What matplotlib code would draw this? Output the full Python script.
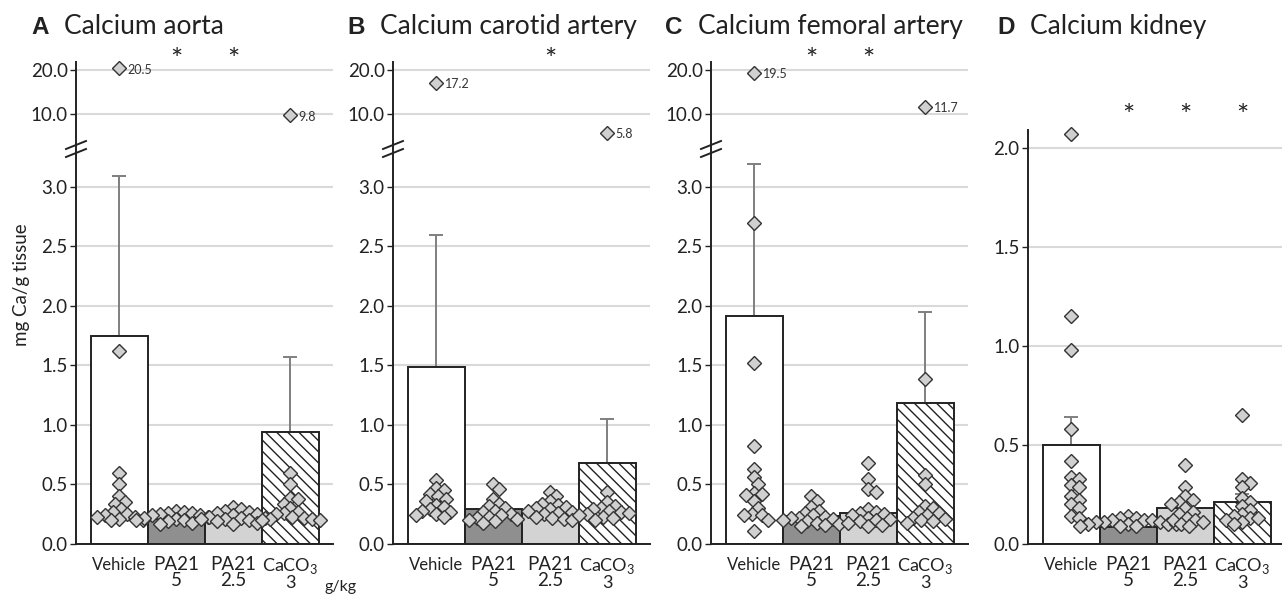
import numpy as np
import matplotlib
matplotlib.use('Agg')
import matplotlib.pyplot as plt
from matplotlib.lines import Line2D
from matplotlib.transforms import IdentityTransform, blended_transform_factory

plt.rcParams['font.family'] = ['Lato', 'DejaVu Sans']
plt.rcParams['mathtext.fontset'] = 'custom'
plt.rcParams['mathtext.rm'] = 'Lato'
plt.rcParams['hatch.linewidth'] = 1.0

# groups on the x axis
groups = ['Vehicle', 'PA21\n5', 'PA21\n2.5', 'CaCO$_3$\n3']

letters = ['A', 'B', 'C', 'D']
titles = ['Calcium aorta', 'Calcium carotid artery', 'Calcium femoral artery', 'Calcium kidney']

# bar means (mg Ca/g tissue)
means_a = [1.75, 0.21, 0.22, 0.94]
means_b = [1.49, 0.29, 0.27, 0.68]
means_c = [1.92, 0.235, 0.26, 1.185]
means_d = [0.50, 0.085, 0.183, 0.214]

# upper error (SEM)
err_a = [1.34, 0.01, 0.01, 0.63]
err_b = [1.11, 0.02, 0.01, 0.37]
err_c = [1.27, 0.02, 0.03, 0.765]
err_d = [0.14, 0.005, 0.03, 0.04]

# individual animals
pts_a = [
    [20.5, 1.62, 0.60, 0.50, 0.40, 0.35, 0.34, 0.29, 0.27, 0.25, 0.24, 0.23, 0.23, 0.21, 0.20, 0.20],
    [0.28, 0.27, 0.26, 0.26, 0.25, 0.24, 0.24, 0.23, 0.22, 0.22, 0.21, 0.20, 0.20, 0.19, 0.18, 0.17],
    [0.31, 0.29, 0.28, 0.27, 0.26, 0.25, 0.24, 0.23, 0.22, 0.22, 0.21, 0.21, 0.20, 0.19, 0.18, 0.17],
    [9.8, 0.60, 0.50, 0.39, 0.38, 0.34, 0.30, 0.27, 0.26, 0.25, 0.23, 0.22, 0.21, 0.21, 0.20, 0.20],
]
pts_b = [
    [17.2, 0.54, 0.47, 0.45, 0.42, 0.40, 0.38, 0.36, 0.33, 0.31, 0.29, 0.28, 0.27, 0.25, 0.24, 0.23],
    [0.50, 0.46, 0.38, 0.34, 0.32, 0.30, 0.28, 0.27, 0.25, 0.24, 0.23, 0.22, 0.21, 0.20, 0.19, 0.18],
    [0.44, 0.40, 0.36, 0.34, 0.33, 0.31, 0.30, 0.29, 0.28, 0.27, 0.26, 0.25, 0.23, 0.22, 0.21, 0.20],
    [5.8, 0.44, 0.35, 0.32, 0.30, 0.29, 0.28, 0.27, 0.26, 0.25, 0.24, 0.23, 0.22, 0.20],
]
pts_c = [
    [19.5, 2.70, 1.52, 0.82, 0.63, 0.56, 0.50, 0.43, 0.42, 0.41, 0.36, 0.30, 0.25, 0.24, 0.24, 0.20, 0.11],
    [0.40, 0.36, 0.31, 0.28, 0.26, 0.24, 0.23, 0.22, 0.22, 0.21, 0.20, 0.19, 0.18, 0.17, 0.16, 0.15],
    [0.68, 0.55, 0.46, 0.44, 0.29, 0.27, 0.26, 0.25, 0.24, 0.22, 0.21, 0.20, 0.19, 0.18, 0.16, 0.15],
    [11.7, 1.39, 0.58, 0.50, 0.32, 0.30, 0.27, 0.26, 0.24, 0.22, 0.21, 0.20, 0.19, 0.18],
]
pts_d = [
    [2.07, 1.15, 0.98, 0.58, 0.42, 0.34, 0.33, 0.30, 0.29, 0.24, 0.22, 0.20, 0.18, 0.14, 0.13],
    [0.14, 0.13, 0.13, 0.12, 0.12, 0.12, 0.11, 0.11, 0.11, 0.10, 0.10, 0.10, 0.10, 0.09, 0.09, 0.09],
    [0.40, 0.29, 0.24, 0.22, 0.21, 0.20, 0.18, 0.16, 0.15, 0.13, 0.12, 0.12, 0.11, 0.10, 0.09],
    [0.65, 0.33, 0.31, 0.29, 0.23, 0.21, 0.19, 0.17, 0.15, 0.14, 0.13, 0.13, 0.12, 0.11, 0.10],
]

# significance vs vehicle
sig_a = [False, True, True, False]
sig_b = [False, False, True, False]
sig_c = [False, True, True, False]
sig_d = [False, True, True, True]

panels = [
    (means_a, err_a, pts_a, sig_a),
    (means_b, err_b, pts_b, sig_b),
    (means_c, err_c, pts_c, sig_c),
    (means_d, err_d, pts_d, sig_d),
]

bar_colors = ['white', '#8f8f8f', '#d3d3d3', 'white']
bar_hatch = [None, None, None, '\\\\\\']


# broken axis: linear up to 3.3, compressed linear above
def fwd(y):
    y = np.asarray(y, dtype=float)
    return np.where(y <= 3.3, y, 3.61 + (y - 10) * 0.037)


def inv(u):
    u = np.asarray(u, dtype=float)
    return np.where(u <= 3.3, u, 10 + (u - 3.61) / 0.037)


def swarm_x(ax, xc, vals, min_d=7.5, step=2.0):
    pts = ax.transData.transform(np.column_stack([np.full(len(vals), xc), vals]))
    placed = []
    for px, py in pts:
        k = 0
        while True:
            off = ((k + 1) // 2) * step * (1 if k % 2 else -1)
            cx = px + off
            if all((cx - qx) ** 2 + (py - qy) ** 2 >= min_d ** 2 for qx, qy in placed):
                break
            k += 1
        placed.append((cx, py))
    return ax.transData.inverted().transform(placed)[:, 0]


W, H = 1282, 595
fig = plt.figure(figsize=(W / 100, H / 100), dpi=100)

ax_left = [76, 393, 711, 1028]
letter_x = [31, 347, 665, 997]
x = np.arange(4)

for i, (means, err, pts, sig) in enumerate(panels):
    broken = i < 3
    top_px = 62 if broken else 130
    ax = fig.add_axes([ax_left[i] / W, (H - 544) / H, 257 / W, (544 - top_px) / H])
    ax.set_xlim(-0.763, 3.746)
    if broken:
        ax.set_yscale('function', functions=(fwd, inv))
        ax.set_ylim(0, 21.9)
        yt = [0, 0.5, 1.0, 1.5, 2.0, 2.5, 3.0, 10.0, 20.0]
    else:
        ax.set_ylim(0, 2.09)
        yt = [0, 0.5, 1.0, 1.5, 2.0]
    ax.set_yticks(yt)
    ax.set_yticklabels([f'{v:.1f}' for v in yt], fontsize=13.5, color='#222222')
    ax.yaxis.grid(True, color='#d9d9d9', lw=1.5)
    ax.set_axisbelow(True)
    for s in ['top', 'right']:
        ax.spines[s].set_visible(False)
    for s in ['left', 'bottom']:
        ax.spines[s].set_linewidth(1.4)
        ax.spines[s].set_color('#222222')
    ax.tick_params(axis='y', length=4, width=1, pad=2, color='#222222')
    ax.tick_params(axis='x', length=0, pad=9)
    ax.set_xticks(x)
    ax.set_xticklabels(groups, fontsize=13.5, linespacing=0.9, color='#222222')
    ax.get_xticklabels()[0].set_fontsize(12)
    ax.get_xticklabels()[3].set_fontsize(13)

    ax.bar(x, means, width=1.0, color=bar_colors, edgecolor='#222222', linewidth=1.4,
           hatch=bar_hatch, zorder=2)
    ax.errorbar(x, means, yerr=[np.zeros(4), err], fmt='none', ecolor='#7f7f7f',
                elinewidth=1.4, capsize=5, capthick=1.4, zorder=1.5)

    for g in range(4):
        vals = pts[g]
        xs = swarm_x(ax, g, vals)
        ax.plot(xs, vals, 'D', ms=6.8, mfc='#d0d0d0', mec='#333333', mew=1.0,
                ls='none', zorder=3, clip_on=False)
        for xv, v in zip(xs, vals):
            if broken and v > 3.3:
                ax.annotate(f'{v:.1f}', (xv, v), xytext=(6, -1), textcoords='offset points',
                            va='center', fontsize=9, color='#333333')

    star_tr = blended_transform_factory(ax.transData, ax.transAxes)
    star_y = 0.985 if broken else 1.012
    for g in range(4):
        if sig[g]:
            ax.text(g, star_y, '*', transform=star_tr, ha='center', va='baseline',
                    fontsize=21, clip_on=False, color='#222222')

    if broken:
        x0, y0 = ax.transAxes.transform((0, (544 - 149) / (544 - top_px)))
        for dy in (-4, 4):
            fig.add_artist(Line2D([x0 - 10, x0 + 10], [y0 + dy - 4, y0 + dy + 4],
                                  transform=IdentityTransform(), color='#222222', lw=1.4))

    fig.text(letter_x[i] / W, (H - 34) / H, letters[i], fontsize=17.5, fontweight='bold',
             family='Liberation Sans', va='baseline', color='#222222')
    fig.text((letter_x[i] + 33) / W, (H - 34) / H, titles[i], fontsize=19, va='baseline',
             color='#222222')

fig.text(22 / W, (H - 285) / H, 'mg Ca/g tissue', rotation=90, ha='center', va='center',
         fontsize=13.5, color='#222222')
fig.text(341 / W, (H - 587) / H, 'g/kg', ha='center', va='center', fontsize=11.5,
         color='#222222')

fig.savefig('out.png', dpi=100)
